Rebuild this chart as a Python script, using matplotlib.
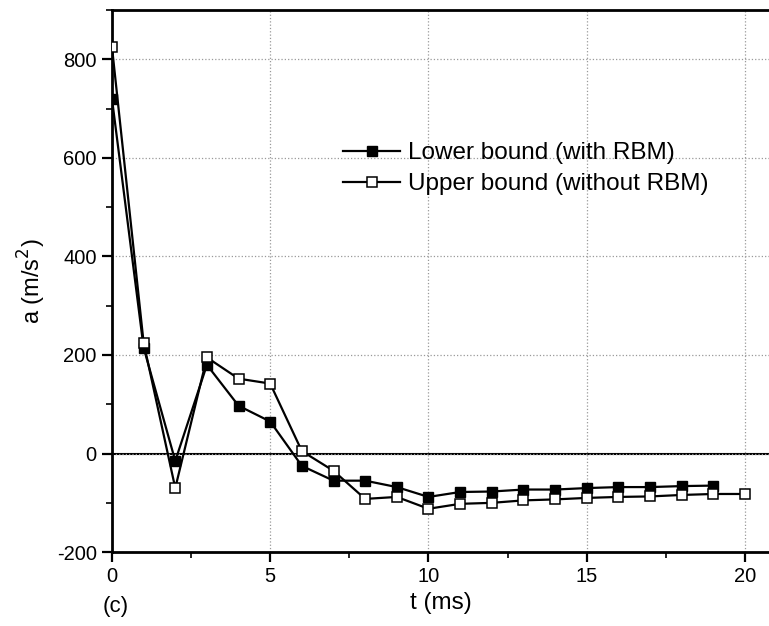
import matplotlib.pyplot as plt
from matplotlib.ticker import MultipleLocator

plt.rcParams['font.family'] = ['Liberation Sans', 'DejaVu Sans']
plt.rcParams['axes.unicode_minus'] = False

t_lower = list(range(0, 20))
a_lower = [720, 215, -15, 180, 97, 65, -25, -55, -55, -68, -88, -78, -77, -73, -73, -70, -68, -68, -66, -65]
t_upper = list(range(0, 21))
a_upper = [825, 225, -70, 195, 152, 142, 5, -35, -92, -88, -112, -102, -100, -95, -93, -90, -88, -87, -84, -82, -82]

fig = plt.figure(figsize=(7.69, 6.26), dpi=100)
ax = fig.add_axes([0.1456, 0.118, 0.8544, 0.866])

ax.axhline(0, color='black', lw=1.5, zorder=1)
ax.plot(t_lower, a_lower, '-s', color='black', lw=1.6, ms=7.5,
        mfc='black', mec='black', label='Lower bound (with RBM)', zorder=3)
ax.plot(t_upper, a_upper, '-s', color='black', lw=1.6, ms=7.5,
        mfc='white', mec='black', mew=1.1, label='Upper bound (without RBM)', zorder=3)

ax.set_xlim(0, 20.76)
ax.set_ylim(-200, 900)
ax.xaxis.set_major_locator(MultipleLocator(5))
ax.xaxis.set_minor_locator(MultipleLocator(2.5))
ax.yaxis.set_major_locator(MultipleLocator(200))
ax.yaxis.set_minor_locator(MultipleLocator(100))
ax.tick_params(which='major', direction='out', length=7, width=1.6, labelsize=14.5, pad=4)
ax.tick_params(which='minor', direction='out', length=4, width=1.2)
ax.grid(True, which='major', ls=':', color='#999999', lw=0.9)
for s in ['left', 'bottom', 'top']:
    ax.spines[s].set_linewidth(2)
ax.spines['right'].set_visible(False)

ax.set_xlabel('t (ms)', fontsize=17.5, labelpad=4)
ax.set_ylabel('a (m/s$^2$)', fontsize=17, labelpad=6)
fig.text(0.134, 0.022, '(c)', fontsize=16)

ax.legend(loc='upper left', bbox_to_anchor=(0.352, 0.756), frameon=False,
          fontsize=17.5, handlelength=2.35, handletextpad=0.33,
          borderpad=0, borderaxespad=0, labelspacing=0.36)

fig.savefig('out.png', dpi=100)
